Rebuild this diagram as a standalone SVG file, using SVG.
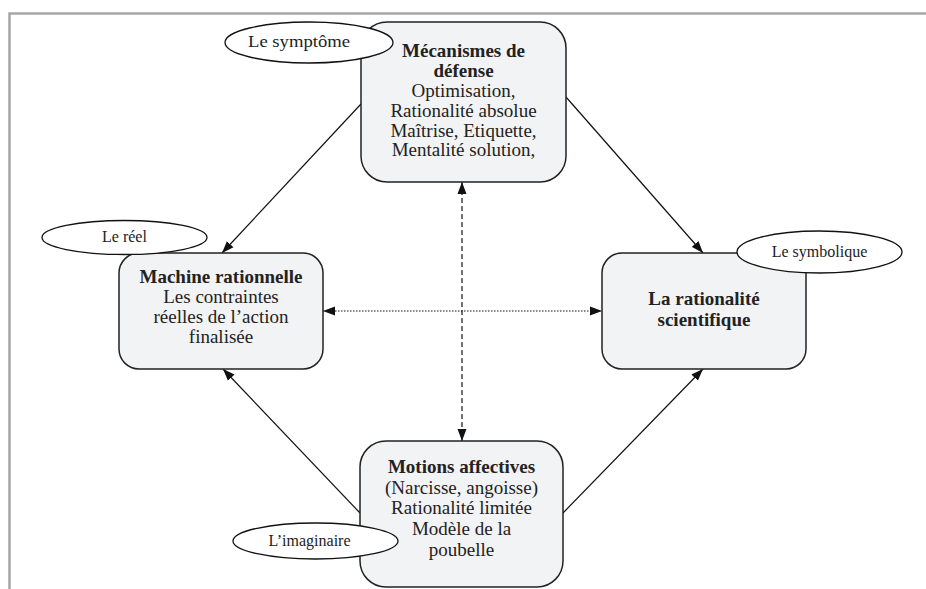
<svg xmlns="http://www.w3.org/2000/svg" width="926" height="589" viewBox="0 0 926 589">
<style>
.frame{stroke:#a6a6a6;stroke-width:2.5;fill:none}
.box{fill:#f2f3f5;stroke:#222;stroke-width:1.5}
.ell{fill:#fff;stroke:#111;stroke-width:1.3}
.t{font-family:"Liberation Serif","Times New Roman",serif;font-size:19px;fill:#222;text-anchor:middle}
.b{font-weight:bold}
.s{font-family:"Liberation Serif","Times New Roman",serif;font-size:16px;fill:#222;text-anchor:middle}
.c{stroke:#111;stroke-width:1.2;fill:none}
</style>
<defs>
<marker id="ah" viewBox="0 0 12 10" refX="12" refY="5" markerWidth="12" markerHeight="10" markerUnits="userSpaceOnUse" orient="auto-start-reverse">
<path d="M0,0.5 L12,5 L0,9.5 Z" fill="#111"/>
</marker>
</defs>
<path class="frame" d="M926,13.5 H9.5 V589"/>
<g id="connectors">
<line class="c" x1="361" y1="104" x2="222" y2="253" marker-end="url(#ah)"/>
<line class="c" x1="566" y1="97" x2="703" y2="253" marker-end="url(#ah)"/>
<line class="c" x1="360" y1="513" x2="223" y2="369" marker-end="url(#ah)"/>
<line class="c" x1="563" y1="513" x2="703" y2="369" marker-end="url(#ah)"/>
<line class="c" x1="462" y1="182" x2="462" y2="441" stroke-dasharray="5,3" marker-start="url(#ah)" marker-end="url(#ah)"/>
<line class="c" x1="323" y1="311" x2="602" y2="311" stroke-dasharray="1.5,1.5" marker-start="url(#ah)" marker-end="url(#ah)"/>
</g>
<g id="node-defense">
<rect class="box" x="361" y="22" width="205" height="160" rx="26"/>
<text class="t b" x="463.5" y="57">Mécanismes de</text>
<text class="t b" x="463.5" y="77">défense</text>
<text class="t" x="463.5" y="97">Optimisation,</text>
<text class="t" x="463.5" y="117">Rationalité absolue</text>
<text class="t" x="463.5" y="137">Maîtrise, Etiquette,</text>
<text class="t" x="463.5" y="156">Mentalité solution,</text>
</g>
<g id="node-machine">
<rect class="box" x="119" y="253" width="204" height="116" rx="20"/>
<text class="t b" x="221" y="283">Machine rationnelle</text>
<text class="t" x="221" y="303">Les contraintes</text>
<text class="t" x="221" y="323">réelles de l’action</text>
<text class="t" x="221" y="343">finalisée</text>
</g>
<g id="node-scientifique">
<rect class="box" x="602" y="253" width="204" height="116" rx="20"/>
<text class="t b" x="704" y="305">La rationalité</text>
<text class="t b" x="704" y="326">scientifique</text>
</g>
<g id="node-motions">
<rect class="box" x="360" y="441" width="203" height="146" rx="26"/>
<text class="t b" x="461.5" y="473">Motions affectives</text>
<text class="t" x="461.5" y="494">(Narcisse, angoisse)</text>
<text class="t" x="461.5" y="514">Rationalité limitée</text>
<text class="t" x="461.5" y="535">Modèle de la</text>
<text class="t" x="461.5" y="556">poubelle</text>
</g>
<g id="ell-symptome">
<ellipse class="ell" cx="309" cy="42.5" rx="84" ry="20.5"/>
<text class="s" x="299" y="47" textLength="102" lengthAdjust="spacingAndGlyphs">Le symptôme</text>
</g>
<g id="ell-reel">
<ellipse class="ell" cx="124.5" cy="237.5" rx="82.5" ry="17"/>
<text class="s" x="124.5" y="242">Le réel</text>
</g>
<g id="ell-symbolique">
<ellipse class="ell" cx="819.5" cy="252" rx="82.5" ry="21"/>
<text class="s" x="819.5" y="257">Le symbolique</text>
</g>
<g id="ell-imaginaire">
<ellipse class="ell" cx="315.5" cy="541" rx="82.5" ry="18"/>
<text class="s" x="309.5" y="546">L’imaginaire</text>
</g>
</svg>
